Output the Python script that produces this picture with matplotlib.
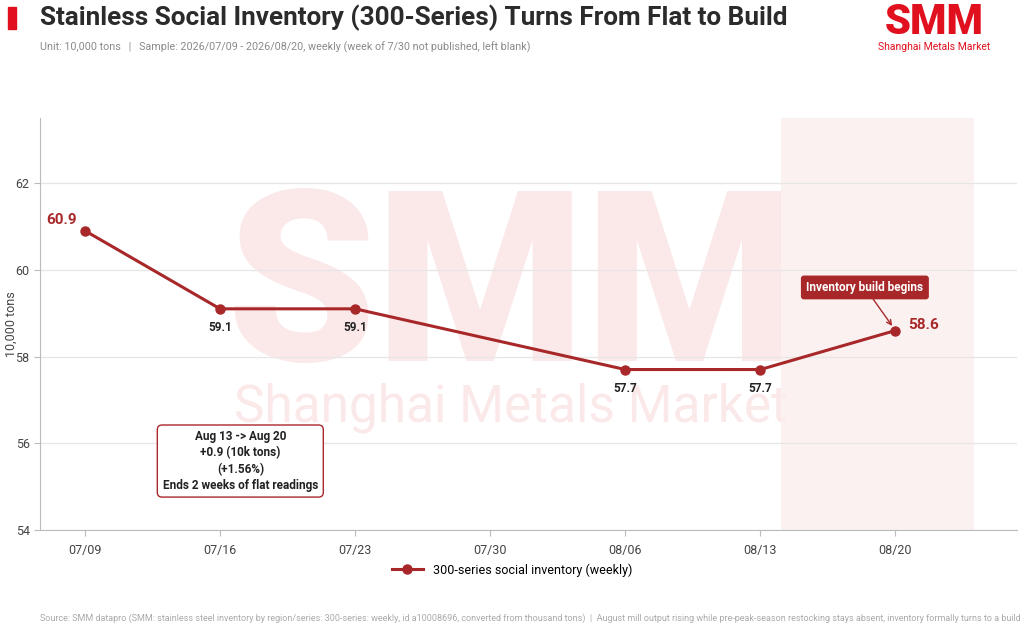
import matplotlib.pyplot as plt
from matplotlib.patches import Rectangle

plt.rcParams["font.family"] = ["Roboto", "DejaVu Sans"]

RED = "#A8282A"
BRAND = "#E0101E"

# weekly 300-series social inventory, 10k tons (07/30 not published)
weeks = ["07/09", "07/16", "07/23", "07/30", "08/06", "08/13", "08/20"]
inventory = [60.9, 59.1, 59.1, None, 57.7, 57.7, 58.6]
yticks = [54, 56, 58, 60, 62]

xs = [i for i, v in enumerate(inventory) if v is not None]
ys = [v for v in inventory if v is not None]

fig = plt.figure(figsize=(10.24, 6.3), dpi=100)
ax = fig.add_axes([40 / 1024, 1 - 530 / 630, 977 / 1024, 412 / 630])

# watermark
ax.text(0.482, 0.57, "SMM", transform=ax.transAxes, ha="center", va="center",
        fontsize=172, fontweight="black", color="#FBE9EA", zorder=0)
ax.text(0.482, 0.296, "Shanghai Metals Market", transform=ax.transAxes, ha="center",
        va="center", fontsize=37, color="#FBE9EA", zorder=0)

# highlight band for the latest week
ax.axvspan(5.15, 6.58, color="#FCEEEE", alpha=0.8, zorder=0.5, lw=0)

ax.plot(xs, ys, color=RED, lw=2.2, marker="o", ms=6.5, zorder=3,
        label="300-series social inventory (weekly)")

ax.set_xlim(-0.333, 6.9)
ax.set_ylim(54, 63.5)
ax.set_xticks(range(len(weeks)))
ax.set_xticklabels(weeks)
ax.set_yticks(yticks)
ax.grid(axis="y", color="#E6E6E6", lw=0.9)
ax.set_axisbelow(True)
ax.spines[["top", "right"]].set_visible(False)
ax.spines[["left", "bottom"]].set_color("#BBBBBB")
ax.tick_params(axis="both", colors="#BBBBBB", labelcolor="#444444", labelsize=9, length=4)
ax.tick_params(axis="x", pad=6)
ax.set_ylabel("10,000 tons", fontsize=9, color="#444444")
ax.yaxis.set_label_coords(-22 / 977, 0.5)

# value labels
ax.annotate(f"{ys[0]:.1f}", (xs[0], ys[0]), xytext=(-6, 8), textcoords="offset points",
            ha="right", va="center", fontsize=11, fontweight="bold", color=RED)
ax.annotate(f"{ys[-1]:.1f}", (xs[-1], ys[-1]), xytext=(9, 4), textcoords="offset points",
            ha="left", va="center", fontsize=11, fontweight="bold", color=RED)
for x, y in zip(xs[1:-1], ys[1:-1]):
    ax.annotate(f"{y:.1f}", (x, y), xytext=(0, -9), textcoords="offset points",
                ha="center", va="top", fontsize=8.5, fontweight="bold", color="#222222")

ax.annotate("Inventory build begins", xy=(xs[-1], ys[-1]), xytext=(-22, 31),
            textcoords="offset points", ha="center", va="center", fontsize=8.5,
            fontweight="bold", color="white",
            bbox=dict(boxstyle="round,pad=0.4,rounding_size=0.2", fc=RED, ec=RED),
            arrowprops=dict(arrowstyle="->", color=RED, lw=1, shrinkA=0, shrinkB=4),
            zorder=5)

ax.text(1.15, 55.59, "Aug 13 -> Aug 20\n+0.9 (10k tons)\n(+1.56%)\nEnds 2 weeks of flat readings",
        ha="center", va="center", fontsize=8.5, fontweight="bold", color="#222222",
        linespacing=1.3,
        bbox=dict(boxstyle="round,pad=0.45,rounding_size=0.4", fc="white", ec=RED, lw=1),
        zorder=5)

fig.legend(loc="center", bbox_to_anchor=(0.5, 1 - 570 / 630), frameon=False,
           fontsize=9, handlelength=2.5)

# header
fig.patches.append(Rectangle((8 / 1024, 1 - 29 / 630), 8 / 1024, 22 / 630,
                             transform=fig.transFigure, color=BRAND))
fig.text(40 / 1024, 1 - 18 / 630, "Stainless Social Inventory (300-Series) Turns From Flat to Build",
         ha="left", va="center", fontsize=18.8, fontweight="bold", color="#2B2B2B")
fig.text(40 / 1024, 1 - 47 / 630,
         "Unit: 10,000 tons   |   Sample: 2026/07/09 - 2026/08/20, weekly (week of 7/30 not published, left blank)",
         ha="left", va="center", fontsize=7.75, color="#8A8A8A")
fig.text(934 / 1024, 1 - 23 / 630, "SMM", ha="center", va="center", fontsize=30,
         fontweight="black", color=BRAND)
fig.text(934 / 1024, 1 - 47 / 630, "Shanghai Metals Market", ha="center", va="center",
         fontsize=7.5, color=BRAND)

fig.text(40 / 1024, 1 - 618 / 630,
         "Source: SMM datapro (SMM: stainless steel inventory by region/series: 300-series: weekly, id a10008696, "
         "converted from thousand tons)  |  August mill output rising while pre-peak-season restocking stays absent, "
         "inventory formally turns to a build",
         ha="left", va="center", fontsize=6.45, color="#AAAAAA")

fig.savefig("out.png", dpi=100)
